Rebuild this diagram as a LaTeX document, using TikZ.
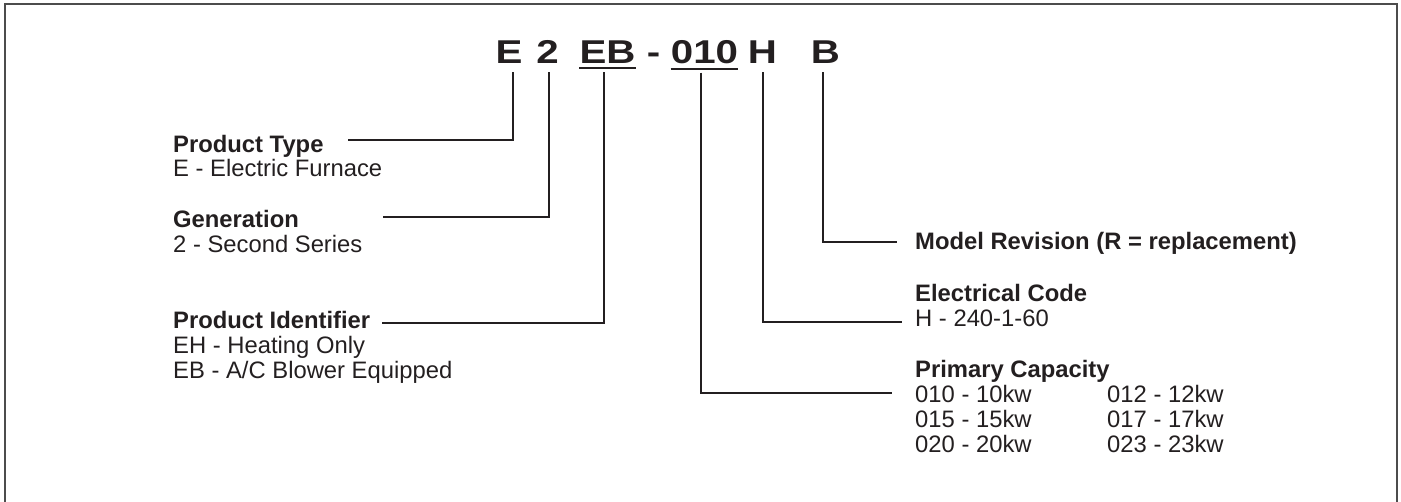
\documentclass[tikz,border=0pt]{standalone}
\usepackage{fontspec}
\setmainfont{Liberation Sans}
\newfontfamily\codefont[FakeStretch=1.22]{Liberation Sans}
\definecolor{ink}{HTML}{231F20}
\begin{document}
\begin{tikzpicture}[x=1pt,y=-1pt,
        code/.style={inner sep=0pt,anchor=base,text=ink,font=\codefont\bfseries\fontsize{33}{36}\selectfont},
        head/.style={inner sep=0pt,anchor=base west,text=ink,font=\bfseries\fontsize{23.8}{25}\selectfont},
        txt/.style={inner sep=0pt,anchor=base west,text=ink,font=\fontsize{23.8}{25}\selectfont},
        lead/.style={draw=ink,line width=2pt}]
    \useasboundingbox (0,0) rectangle (1401,501);

    % 外框
    \draw[black!70,line width=1.8pt] (5,4) rectangle (1397,512);

    % 型号各位
    \node[code] (cE) at (509,63) {E};
    \node[code] (cGen) at (547.5,63) {2};
    \node[code] (cId) at (607.5,63) {EB};
    \node[code] (cDash) at (653.5,63) {-};
    \node[code] (cCap) at (704.5,63) {010};
    \node[code] (cH) at (762.5,63) {H};
    \node[code] (cB) at (825.5,63) {B};
    \draw[lead] ([yshift=-5pt]cId.south west) -- ([yshift=-5pt]cId.south east);
    \draw[lead] ([yshift=-5pt]cCap.south west) -- ([yshift=-5pt]cCap.south east);

    % 左侧说明
    \node[head] (ptype) at (173,152) {Product Type};
    \node[txt] (ptypeA) at (173,176) {E - Electric Furnace};
    \node[head] (gen) at (173,227) {Generation};
    \node[txt] (genA) at (173,252) {2 - Second Series};
    \node[head] (pid) at (173,328) {Product Identifier};
    \node[txt] (pidA) at (173,353) {EH - Heating Only};
    \node[txt] (pidB) at (173,378) {EB - A/C Blower Equipped};

    % 右侧说明
    \node[head] (mrev) at (915,249) {Model Revision (R = replacement)};
    \node[head] (ecode) at (915,301) {Electrical Code};
    \node[txt] (ecodeA) at (915,326) {H - 240-1-60};
    \node[head] (pcap) at (915,377) {Primary Capacity};
    \foreach \a/\b/\i in {010/10/0,015/15/1,020/20/2} {
            \node[txt] (capL\i) at (915,{402+25*\i}) {\a\ - \b kw};
        }
    \foreach \a/\b/\i in {012/12/0,017/17/1,023/23/2} {
            \node[txt] (capR\i) at (1107,{402+25*\i}) {\a\ - \b kw};
        }

    % 引线端点
    \coordinate (tType) at (348,140);
    \coordinate (tGen) at (383,217);
    \coordinate (tId) at (382,323);
    \coordinate (tCap) at (892,393);
    \coordinate (tH) at (902,322);
    \coordinate (tB) at (897,242);

    % 引线
    \draw[lead] ([xshift=4pt,yshift=-9pt]cE.south) |- (tType);
    \draw[lead] ([xshift=1.5pt,yshift=-9pt]cGen.south) |- (tGen);
    \draw[lead] ([xshift=-3.5pt,yshift=-9pt]cId.south) |- (tId);
    \draw[lead] ([xshift=-3.5pt,yshift=-9pt]cCap.south) |- (tCap);
    \draw[lead] ([yshift=-9pt]cH.south) |- (tH);
    \draw[lead] ([xshift=-2.5pt,yshift=-9pt]cB.south) |- (tB);
\end{tikzpicture}
\end{document}
